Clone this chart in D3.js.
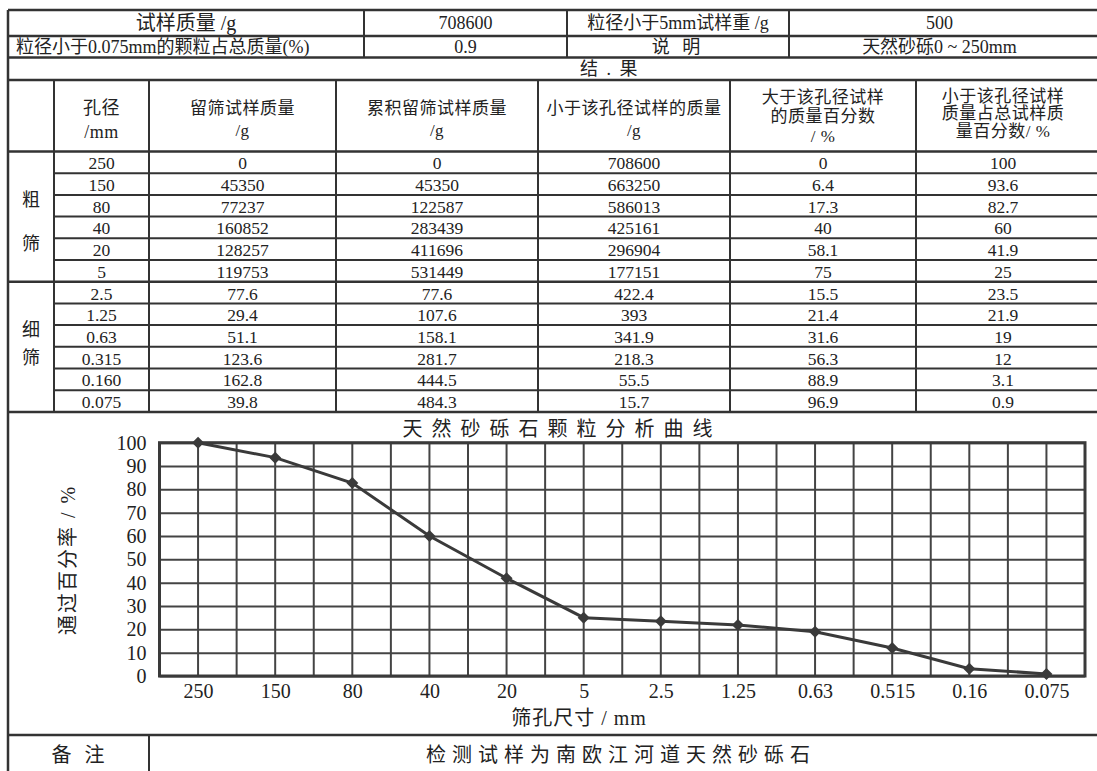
<!DOCTYPE html>
<html>
<head>
<meta charset="utf-8">
<script src="https://cdn.jsdelivr.net/npm/d3@7"></script>
<style>
body { margin: 0; background: #fff; }
text { font-family: "Liberation Serif", "Noto Sans CJK SC", serif; fill: #222; }
</style>
</head>
<body>
<svg id="sheet"></svg>
<script>
// ---- data ----
var sampleMass = "708600";
var finesPct = "0.9";
var under5Mass = "500";
var sampleNote = "天然砂砾0 ~ 250mm";
var remark = "检测试样为南欧江河道天然砂砾石";

var sieveSizes = ["250", "150", "80", "40", "20", "5", "2.5", "1.25", "0.63", "0.315", "0.160", "0.075"];
var retained = ["0", "45350", "77237", "160852", "128257", "119753", "77.6", "29.4", "51.1", "123.6", "162.8", "39.8"];
var cumRetained = ["0", "45350", "122587", "283439", "411696", "531449", "77.6", "107.6", "158.1", "281.7", "444.5", "484.3"];
var passMass = ["708600", "663250", "586013", "425161", "296904", "177151", "422.4", "393", "341.9", "218.3", "55.5", "15.7"];
var coarserPct = ["0", "6.4", "17.3", "40", "58.1", "75", "15.5", "21.4", "31.6", "56.3", "88.9", "96.9"];
var finerPct = ["100", "93.6", "82.7", "60", "41.9", "25", "23.5", "21.9", "19", "12", "3.1", "0.9"];

// curve on the chart
var curveSizes = ["250", "150", "80", "40", "20", "5", "2.5", "1.25", "0.63", "0.515", "0.16", "0.075"];
var passingPct = [100, 93.6, 82.7, 60, 41.9, 25, 23.5, 21.9, 19, 12, 3.1, 0.9];
var yTicks = [0, 10, 20, 30, 40, 50, 60, 70, 80, 90, 100];

// ---- layout ----
var W = 1097, H = 771;
var ink = "#333";
var svg = d3.select("#sheet").attr("width", W).attr("height", H);
svg.append("rect").attr("width", W).attr("height", H).attr("fill", "#fff");

var L = 8, R = 1090;
var colX = [L, 54, 149, 336, 538, 730, 916, R];
var topColX = [L, 364, 567, 789, R];
var rowTop = 151.5, rowH = 21.7;
var chartTop = rowTop + rowH * 12, chartBottom = 735;

function hline(y, x1, x2, w) {
  svg.append("line").attr("x1", x1).attr("x2", x2).attr("y1", y).attr("y2", y)
    .attr("stroke", ink).attr("stroke-width", w || 2);
}
function vline(x, y1, y2, w) {
  svg.append("line").attr("x1", x).attr("x2", x).attr("y1", y1).attr("y2", y2)
    .attr("stroke", ink).attr("stroke-width", w || 2);
}
function label(x, y, s, size, anchor, spacing) {
  return svg.append("text").attr("x", x).attr("y", y)
    .attr("text-anchor", anchor || "middle")
    .attr("dominant-baseline", "central")
    .attr("font-size", size || 17)
    .attr("letter-spacing", spacing || 0)
    .text(s);
}

// outer frame and main rules
vline(L, 10, H + 2, 2.5);
vline(1100, 10, H + 2, 2.5);
[10, 36, 57.5, 80, rowTop, chartTop, chartBottom].forEach(function (y) { hline(y, L, W + 5, 2.5); });

// top rows
topColX.slice(1, 4).forEach(function (x) { vline(x, 10, 57.5); });
label((L + 364) / 2, 23, "试样质量 /g", 20);
label((364 + 567) / 2, 23, sampleMass, 18);
label((567 + 789) / 2, 23, "粒径小于5mm试样重 /g", 18);
label((789 + R) / 2, 23, under5Mass, 18);
label(16, 46.5, "粒径小于0.075mm的颗粒占总质量(%)", 18, "start");
label((364 + 567) / 2, 46.5, finesPct, 18);
label((567 + 789) / 2, 46.5, "说  明", 18, "middle", 4);
label((789 + R) / 2, 46.5, sampleNote, 18);
label(580, 69, "结 . 果", 18, "start", 2);

// result table columns
colX.slice(1, 7).forEach(function (x) { vline(x, 80, chartTop); });
var centers = d3.range(7).map(function (i) { return (colX[i] + colX[i + 1]) / 2; });

var headers = [
  [],
  ["孔径", "/mm"],
  ["留筛试样质量", "/g"],
  ["累积留筛试样质量", "/g"],
  ["小于该孔径试样的质量", "/g"],
  ["大于该孔径试样", "的质量百分数", "/ %"],
  ["小于该孔径试样", "质量占总试样质", "量百分数/ %"]
];
var headMid = [0, 120, 119, 119, 119, 116.5, 113.5];
var headGap = [0, 24, 22, 22, 22, 19.5, 17.5];
headers.forEach(function (lines, i) {
  var y0 = headMid[i] - headGap[i] * (lines.length - 1) / 2;
  lines.forEach(function (s, k) {
    label(centers[i], y0 + k * headGap[i], s, i === 1 ? 18 : 17, "middle", 0.5);
  });
});

// data rows
var columns = [sieveSizes, retained, cumRetained, passMass, coarserPct, finerPct];
sieveSizes.forEach(function (d, r) {
  var yc = rowTop + rowH * (r + 0.5) + 1;
  columns.forEach(function (col, c) { label(centers[c + 1], yc, col[r], 17.5); });
  if (r > 0) hline(rowTop + rowH * r, r === 6 ? L : colX[1], W + 5, r === 6 ? 2.5 : 2);
});
label(centers[0], 200, "粗", 18);
label(centers[0], 244, "筛", 18);
label(centers[0], 330, "细", 18);
label(centers[0], 358, "筛", 18);

// ---- grading curve ----
var px0 = 159.5, px1 = 1085, py0 = 676, py1 = 442.7;
var x = d3.scalePoint().domain(curveSizes).range([px0, px1]).padding(0.5);
var y = d3.scaleLinear().domain([0, 100]).range([py0, py1]);
var step = x.step();

var g = svg.append("g");
var vx = [];
curveSizes.forEach(function (d, i) {
  if (i === 0) vx.push(x(d) - step / 2);
  vx.push(x(d));
  vx.push(x(d) + step / 2);
});
g.selectAll("line.vg").data(vx).enter().append("line")
  .attr("class", "vg")
  .attr("x1", function (d) { return d; }).attr("x2", function (d) { return d; })
  .attr("y1", py1).attr("y2", py0)
  .attr("stroke", "#444").attr("stroke-width", 2);

var yAxis = g.append("g").attr("transform", "translate(" + px0 + ",0)")
  .call(d3.axisLeft(y).tickValues(yTicks).tickSize(-(px1 - px0)).tickPadding(13));
yAxis.select(".domain").remove();
yAxis.selectAll(".tick line").attr("stroke", "#444").attr("stroke-width", 2);
yAxis.selectAll(".tick text").attr("font-size", 20).attr("fill", "#222")
  .attr("font-family", "Liberation Serif");

var xAxis = g.append("g").attr("transform", "translate(0," + py0 + ")")
  .call(d3.axisBottom(x).tickSize(0).tickPadding(8));
xAxis.select(".domain").remove();
xAxis.selectAll(".tick text").attr("font-size", 20).attr("fill", "#222")
  .attr("font-family", "Liberation Serif");

g.append("rect").attr("x", px0).attr("y", py1)
  .attr("width", px1 - px0).attr("height", py0 - py1)
  .attr("fill", "none").attr("stroke", "#3a3a3a").attr("stroke-width", 3);

var curve = d3.line()
  .x(function (d, i) { return x(curveSizes[i]); })
  .y(function (d) { return y(d); });
g.append("path").datum(passingPct).attr("d", curve)
  .attr("fill", "none").attr("stroke", "#3a3a3a").attr("stroke-width", 3);
g.selectAll("path.pt").data(passingPct).enter().append("path")
  .attr("class", "pt")
  .attr("d", d3.symbol(d3.symbolSquare, 72))
  .attr("transform", function (d, i) { return "translate(" + x(curveSizes[i]) + "," + y(d) + ") rotate(45)"; })
  .attr("fill", "#3a3a3a");

label(562, 429, "天然砂砾石颗粒分析曲线", 20, "middle", 9);
label(579, 718, "筛孔尺寸 / mm", 20, "middle", 1);
svg.append("text")
  .attr("transform", "translate(68,560) rotate(-90)")
  .attr("text-anchor", "middle").attr("dominant-baseline", "central")
  .attr("font-size", 20).attr("letter-spacing", 2)
  .text("通过百分率 / %");

// remarks row
vline(colX[2], chartBottom, H + 2);
label(80, 755, "备  注", 20, "middle", 4);
label(621, 755, remark, 20, "middle", 6);
</script>
</body>
</html>
